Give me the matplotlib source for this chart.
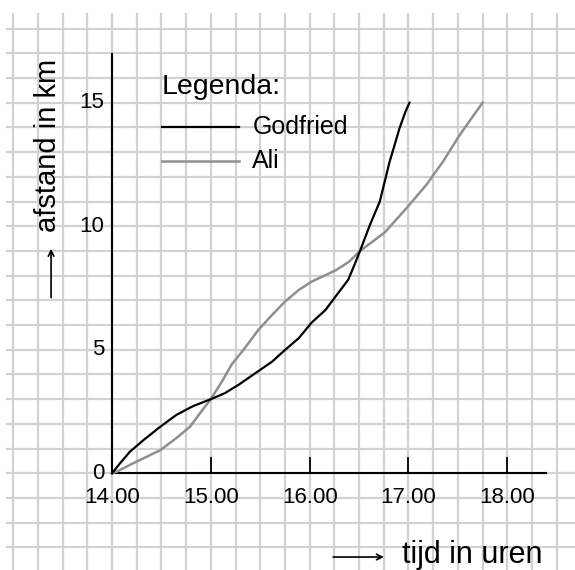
import matplotlib
matplotlib.use("Agg")
import matplotlib.pyplot as plt
import numpy as np

plt.rcParams["font.family"] = ["Liberation Sans", "DejaVu Sans"]

# Godfried (black): hour, km
godfried_t = [14.00, 14.08, 14.18, 14.32, 14.49, 14.65, 14.82, 15.00, 15.14, 15.28,
              15.45, 15.62, 15.75, 15.89, 16.02, 16.16, 16.28, 16.39, 16.46, 16.51,
              16.61, 16.71, 16.76, 16.81, 16.86, 16.91, 16.97, 17.01]
godfried_km = [0.0, 0.40, 0.87, 1.35, 1.89, 2.36, 2.72, 3.00, 3.24, 3.58,
               4.05, 4.52, 4.99, 5.47, 6.10, 6.61, 7.25, 7.83, 8.50, 9.00,
               10.05, 11.00, 11.81, 12.62, 13.29, 13.97, 14.64, 15.0]

# Ali (grey)
ali_t = [14.00, 14.05, 14.18, 14.32, 14.49, 14.65, 14.79, 14.89, 15.00, 15.11,
         15.21, 15.35, 15.48, 15.62, 15.75, 15.89, 16.02, 16.27, 16.40, 16.51,
         16.76, 16.98, 17.18, 17.35, 17.52, 17.75]
ali_km = [0.0, 0.07, 0.34, 0.61, 0.94, 1.42, 1.89, 2.43, 3.00, 3.70,
          4.40, 5.10, 5.80, 6.41, 6.95, 7.42, 7.76, 8.23, 8.57, 9.00,
          9.75, 10.73, 11.67, 12.62, 13.70, 15.0]

x_ticks = [15, 16, 17, 18]
x_labels = ["14.00", "15.00", "16.00", "17.00", "18.00"]
y_ticks = [0, 5, 10, 15]

fig = plt.figure(figsize=(5.75, 5.70), dpi=100)
ax = fig.add_axes([0, 0, 1, 1])
ax.set_xlim(12.866, 18.686)
ax.set_ylim(-3.915, 19.16)
ax.axis("off")

# squared paper
grid_c = "#d2d2d2"
for gx in np.arange(13.0, 18.51, 0.25):
    ax.plot([gx, gx], [-3.915, 18.6], color=grid_c, lw=1.6, zorder=1)
for gy in range(-3, 19):
    ax.plot([12.937, 18.7], [gy, gy], color=grid_c, lw=1.6, zorder=1)

# axes
ax.plot([14, 14], [0, 16.97], color="black", lw=1.5, zorder=3)
ax.plot([14, 18.39], [0, 0], color="black", lw=1.5, zorder=3)
for t in x_ticks:
    ax.plot([t, t], [0, 0.6], color="black", lw=1.3, zorder=3)
for i, lab in enumerate(x_labels):
    ax.text(14 + i, -0.96, lab, ha="center", va="center", fontsize=16, zorder=4)
for v in y_ticks:
    ax.text(13.92, v, str(v), ha="right", va="center", fontsize=16, zorder=4)

# curves
ax.plot(godfried_t, godfried_km, color="black", lw=1.6, zorder=5,
        solid_joinstyle="round")
ax.plot(ali_t, ali_km, color="#8f8f8f", lw=1.8, zorder=4, solid_joinstyle="round")

# legend
ax.text(14.506, 15.64, "Legenda:", ha="left", va="center", fontsize=20.5, zorder=4)
ax.plot([14.506, 15.285], [14.03, 14.03], color="black", lw=1.6, zorder=4)
ax.text(15.42, 14.03, "Godfried", ha="left", va="center", fontsize=18, zorder=4)
ax.plot([14.506, 15.285], [12.64, 12.64], color="#8f8f8f", lw=1.8, zorder=4)
ax.text(15.42, 12.64, "Ali", ha="left", va="center", fontsize=18, zorder=4)

# axis titles with arrows
ax.text(13.352, 13.29, "afstand in km", rotation=90, ha="center", va="center",
        fontsize=21, zorder=4)
ax.annotate("", xy=(13.383, 9.2), xytext=(13.383, 7.0),
            arrowprops=dict(arrowstyle="->", color="black", lw=1.2), zorder=4)
ax.text(16.93, -3.31, "tijd in uren", ha="left", va="center", fontsize=22, zorder=4)
ax.annotate("", xy=(16.78, -3.39), xytext=(16.21, -3.39),
            arrowprops=dict(arrowstyle="->", color="black", lw=1.2), zorder=4)

fig.savefig("out.png", dpi=100, facecolor="white")
